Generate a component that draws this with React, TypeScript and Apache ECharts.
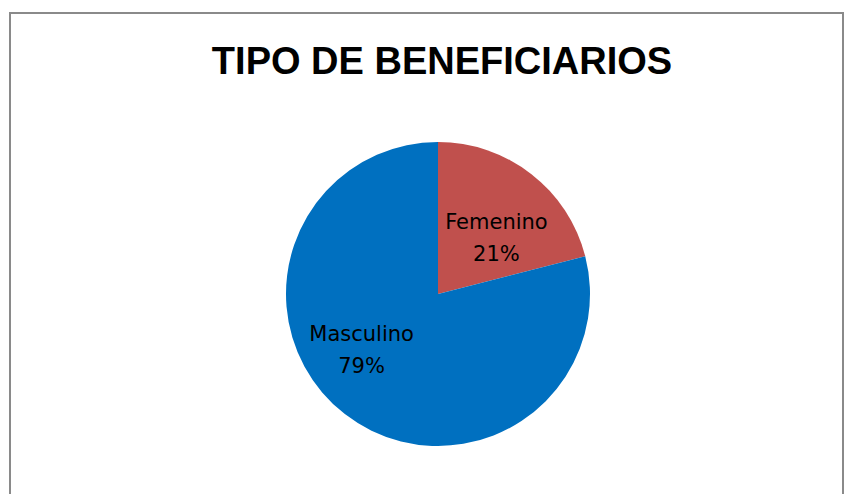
import React, { useEffect, useRef } from "react";
import * as echarts from "echarts";

const categories = ["Femenino", "Masculino"];
const values = [21, 79];
const colors = ["#C0504D", "#0070C0"];
const labelOffsets: [number, number][] = [[10, 6], [-28, -6]];
const titleText = "TIPO DE BENEFICIARIOS";

export default function App() {
  const ref = useRef<HTMLDivElement>(null);
  useEffect(() => {
    if (!ref.current) return;
    const chart = echarts.init(ref.current, null, { renderer: "svg" });
    chart.setOption({
      animation: false,
      backgroundColor: "#ffffff",
      title: {
        text: titleText,
        left: 437,
        top: 37,
        textAlign: "center",
        textStyle: {
          fontFamily: "Liberation Sans",
          fontWeight: "bold",
          fontSize: 38,
          color: "#000000",
        },
      },
      graphic: [
        {
          type: "polyline",
          shape: { points: [[10, 500], [10, 13], [843, 13], [843, 500]] },
          style: { stroke: "#8a8a8a", lineWidth: 2, fill: "none" },
          silent: true,
        },
      ],
      series: [
        {
          type: "pie",
          center: [438, 294],
          radius: [0, 152],
          startAngle: 90,
          clockwise: true,
          labelLine: { show: false },
          emphasis: { disabled: true },
          label: {
            show: true,
            position: "inside",
            formatter: "{b}\n{d}%",
            fontFamily: "DejaVu Sans",
            fontSize: 21,
            lineHeight: 32,
            color: "#000000",
            align: "center",
          },
          data: categories.map((c, i) => ({
            name: c,
            value: values[i],
            itemStyle: { color: colors[i] },
            label: { offset: labelOffsets[i] },
          })),
        },
      ],
    });
    return () => chart.dispose();
  }, []);
  return (
    <div
      ref={ref}
      style={{ position: "absolute", left: 0, top: 0, width: 854, height: 494 }}
    />
  );
}
